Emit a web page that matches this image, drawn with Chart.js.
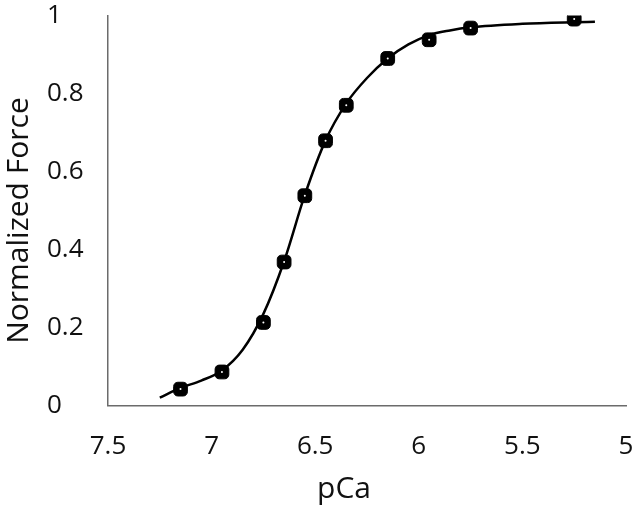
<!DOCTYPE html>
<html>
<head>
<meta charset="utf-8">
<script src="https://cdn.jsdelivr.net/npm/chart.js@4.4.1/dist/chart.umd.min.js"></script>
<style>
  html, body { margin: 0; padding: 0; background: #fff; }
  #wrap { width: 638px; height: 509px; }
</style>
</head>
<body>
<div id="wrap"><canvas id="myChart"></canvas></div>
<script>
// measured points
const pCa = [7.15, 6.95, 6.75, 6.65, 6.55, 6.45, 6.35, 6.15, 5.95, 5.75, 5.25];
const force = [0.042, 0.086, 0.213, 0.368, 0.538, 0.679, 0.77, 0.89, 0.938, 0.968, 0.991];

// fitted curve
const fitPCa = [7.25, 7.15, 7.05, 6.95, 6.85, 6.75, 6.65, 6.55, 6.45, 6.35, 6.25, 6.15, 6.05, 5.95, 5.85, 5.75, 5.5, 5.25, 5.15];
const fitForce = [0.02, 0.045, 0.064, 0.09, 0.143, 0.235, 0.37, 0.54, 0.68, 0.775, 0.84, 0.89, 0.926, 0.95, 0.962, 0.97, 0.979, 0.983, 0.984];

const xTicks = [7.5, 7, 6.5, 6, 5.5, 5];
const yTicks = [0, 0.2, 0.4, 0.6, 0.8, 1];

const xTitle = 'pCa';
const yTitle = 'Normalized Force';

const pts = pCa.map((x, i) => ({ x: x, y: force[i] }));
const fit = fitPCa.map((x, i) => ({ x: x, y: fitForce[i] }));

// axis titles drawn by hand so they sit where the original has them
const titles = {
  id: 'titles',
  afterDraw(chart) {
    const c = chart.ctx, a = chart.chartArea;
    c.save();
    c.fillStyle = '#111';
    c.font = '30px "Open Sans"';
    c.textAlign = 'center';
    c.textBaseline = 'alphabetic';
    c.fillText(xTitle, (a.left + a.right) / 2 - 23, 498);
    c.translate(28, (a.top + a.bottom) / 2 + 10);
    c.rotate(-Math.PI / 2);
    c.fillText(yTitle, 0, 0);
    c.restore();
  }
};

new Chart(document.getElementById('myChart'), {
  type: 'scatter',
  data: {
    datasets: [{
      data: fit,
      showLine: true,
      borderColor: '#000',
      borderWidth: 2.5,
      pointRadius: 0,
      cubicInterpolationMode: 'monotone',
      order: 3
    }, {
      data: pts,
      pointStyle: 'rectRounded',
      pointRadius: 8,
      backgroundColor: '#000',
      borderColor: '#000',
      borderWidth: 1,
      order: 2
    }, {
      data: pts,
      pointStyle: 'circle',
      pointRadius: 1,
      backgroundColor: '#fff',
      borderWidth: 0,
      order: 1
    }]
  },
  options: {
    responsive: true,
    maintainAspectRatio: false,
    animation: false,
    layout: { padding: { left: 47, right: 12, top: 2, bottom: 48.5 } },
    plugins: { legend: { display: false }, tooltip: { enabled: false } },
    scales: {
      x: {
        type: 'linear',
        reverse: true,
        min: 5,
        max: 7.5,
        afterBuildTicks: s => { s.ticks = xTicks.map(v => ({ value: v })); },
        afterFit: s => { s.height = 55; },
        // tick marks are hidden; tickLength just pushes the labels down
        grid: { display: false, drawTicks: true, tickLength: 25 },
        border: { color: '#6b6b6b', width: 1.5 },
        ticks: {
          color: '#111', padding: 0, maxRotation: 0,
          font: { family: 'Open Sans', size: 26 },
          callback: v => String(v)
        }
      },
      y: {
        min: 0,
        max: 1,
        afterBuildTicks: s => { s.ticks = yTicks.map(v => ({ value: v })); },
        afterFit: s => { s.width = 61; },
        grid: { display: false, drawTicks: false, tickLength: 0 },
        border: { color: '#6b6b6b', width: 1.5 },
        ticks: {
          color: '#111', padding: 0, crossAlign: 'far',
          font: { family: 'Open Sans', size: 26 },
          callback: v => String(v)
        }
      }
    }
  },
  plugins: [titles]
});
</script>
</body>
</html>
